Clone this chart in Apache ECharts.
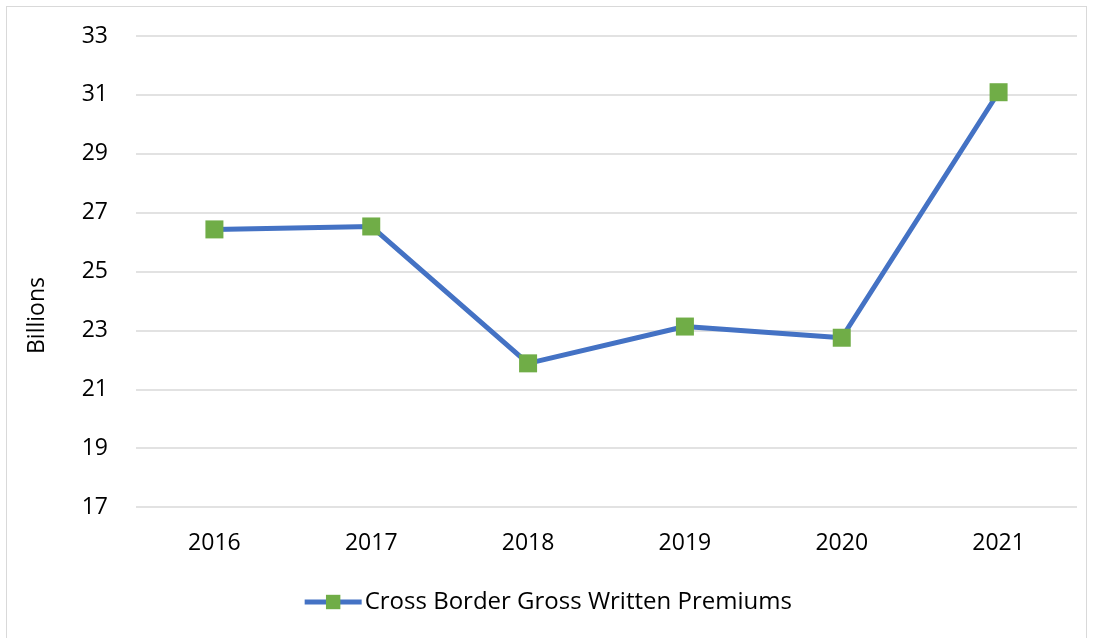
<!DOCTYPE html>
<html>
<head>
<meta charset="utf-8">
<script src="https://cdn.jsdelivr.net/npm/echarts@6/dist/echarts.min.js"></script>
<style>
html,body{margin:0;padding:0;background:#fff;}
#frame{position:absolute;left:6px;top:6px;width:1081px;height:640px;border:1px solid #d9d9d9;box-sizing:border-box;}
#chart{position:absolute;left:0;top:0;width:1094px;height:638px;}
</style>
</head>
<body>
<div id="frame"></div>
<div id="chart"></div>
<script>
const categories = ['2016','2017','2018','2019','2020','2021'];
const seriesName = 'Cross Border Gross Written Premiums';
const values = [26.43, 26.53, 21.88, 23.13, 22.75, 31.09];
const yAxisTitle = 'Billions';

const FONT = '"Open Sans", "Liberation Sans", sans-serif';
const chart = echarts.init(document.getElementById('chart'));
chart.setOption({
  animation: false,
  backgroundColor: 'transparent',
  grid: {left: 136, right: 17, top: 36, bottom: 131},
  xAxis: {
    type: 'category',
    data: categories,
    boundaryGap: true,
    axisLine: {show: false},
    axisTick: {show: false},
    axisLabel: {color: '#000', fontSize: 23, fontFamily: FONT, margin: 25}
  },
  yAxis: {
    type: 'value',
    min: 17, max: 33, interval: 2,
    axisLine: {show: false},
    axisTick: {show: false},
    splitLine: {lineStyle: {color: '#d9d9d9', width: 1.5}},
    axisLabel: {color: '#000', fontSize: 23, fontFamily: FONT, margin: 28}
  },
  legend: {
    bottom: 19,
    left: 'center',
    itemWidth: 57, itemHeight: 18,
    itemGap: 4,
    lineStyle: {width: 5, color: '#4472C4'},
    textStyle: {color: '#000', fontSize: 24, fontFamily: FONT, padding: [0,0,0,-2]},
    data: [{name: seriesName}]
  },
  graphic: [{
    type: 'text',
    left: 26, top: 277,
    rotation: Math.PI / 2,
    style: {text: yAxisTitle, fill: '#000', font: '23px ' + FONT}
  }],
  series: [{
    name: seriesName,
    type: 'line',
    data: values,
    symbol: 'rect',
    symbolSize: 18,
    lineStyle: {color: '#4472C4', width: 5},
    itemStyle: {color: '#70AD47'}
  }]
});
</script>
</body>
</html>
